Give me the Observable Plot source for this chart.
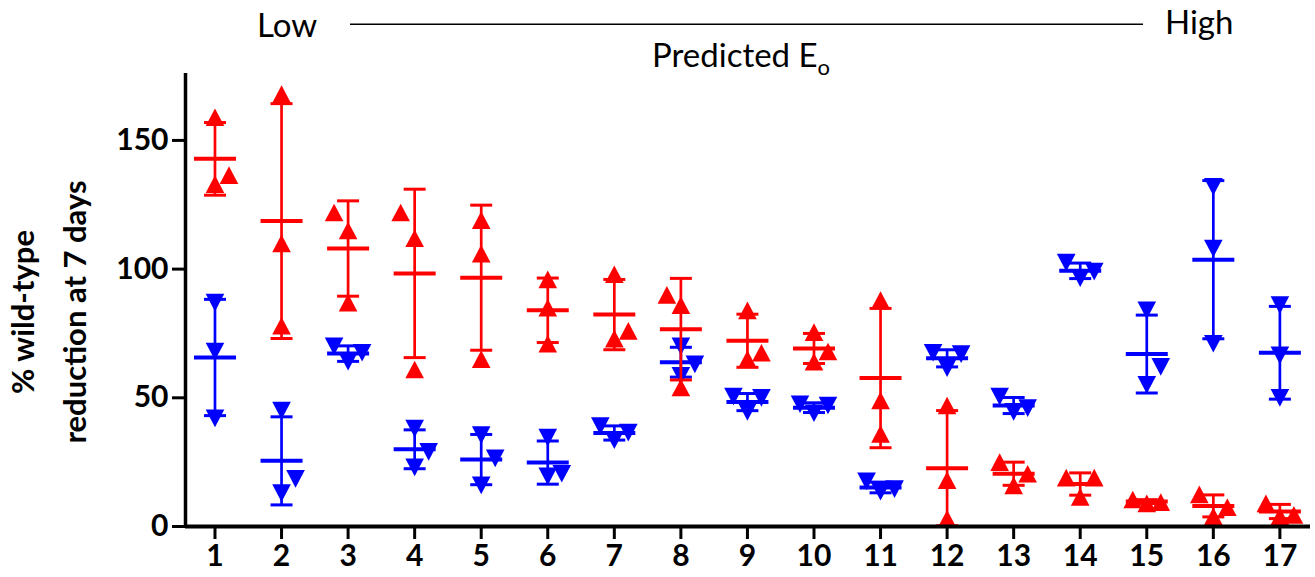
<!DOCTYPE html>
<html><head><meta charset="utf-8">
<script src="https://cdn.jsdelivr.net/npm/d3@7"></script>
<script src="https://cdn.jsdelivr.net/npm/@observablehq/plot@0.6"></script>
<style>
body{margin:0;background:#fff;}
#wrap{position:relative;width:1315px;height:577px;font-family:Lato,"Open Sans",sans-serif;}
#overlay{position:absolute;left:0;top:0;pointer-events:none;overflow:visible;}
</style></head><body><div id="wrap"></div>
<script>
// ---- data ----
const groups = [1,2,3,4,5,6,7,8,9,10,11,12,13,14,15,16,17];
const xTicks = groups;
const yTicks = [0, 50, 100, 150];
// red series (triangles up), three replicates per group
const redValues = [
  [159,133,136.5],[168,110,78],[122,115,87],[122,112,61],[119,106,65],
  [96,85,71],[98,73,76],[90,86,54],[84,65,67.5],[75.5,68,64],
  [88,49,36],[47,18,3],[25,20.5,16],[19,19,11.5],[10.5,9,9.5],
  [12.5,7.5,4],[9,4,4.5]
];
// blue series (triangles down)
const blueValues = [
  [87,68,42],[45,18.5,13],[70,64,67.5],[38,29,23],[35.5,26.5,16],
  [34.5,19.5,20.5],[39,33.5,36.5],[70,63,58.5],[50.5,44.5,50],[47.5,47,44],
  [17.5,13.5,14.5],[67.5,67,61.5],[50.5,46,44.5],[102.5,99,96.5],[84,62,55],
  [132,108,71],[86,66.5,50]
];
const yTitle = ["% wild-type", "reduction at 7 days"];
const topLabels = {low: "Low", high: "High", middle: "Predicted E", sub: "o"};

// ---- helpers ----
const RED = "#ff0000", BLUE = "#0000ff";
const xDomain = [0.557, 17.46], yDomain = [0, 176];
const dodgeGap = 11; // values closer than this are shifted sideways

function triangle(dir){
  return {draw(ctx, size){
    const r = Math.sqrt(size/Math.PI), hw = r*1.37, hh = r*1.3*dir;
    ctx.moveTo(0,-hh); ctx.lineTo(hw,hh); ctx.lineTo(-hw,hh); ctx.closePath();
  }};
}
const triUp = triangle(1), triDown = triangle(-1);
const hline = {draw(ctx,size){const r=Math.sqrt(size/Math.PI); ctx.moveTo(-r,0); ctx.lineTo(r,0);}};

function build(values){
  const pts = [], stats = [];
  values.forEach((vals,i)=>{
    const g = groups[i];
    const m = d3.mean(vals), s = d3.deviation(vals);
    stats.push({group:g, mean:m, lo:m-s, hi:m+s});
    const placed = [];
    [...vals].sort((a,b)=>a-b).forEach(v=>{
      const near = c => placed.find(p=>p.slot===c && Math.abs(p.value-v)<dodgeGap);
      let slot = 0;
      const hit = near(0);
      if (hit) {
        const prefs = hit === placed[0] ? [1,-1] : [-1,1];
        slot = prefs.find(c=>!near(c)) ?? prefs[0];
      }
      const p = {group:g, value:v, slot};
      placed.push(p); pts.push(p);
    });
  });
  return {pts, stats};
}

function seriesMarks(values, color, sym){
  const {pts, stats} = build(values);
  return [
    ...[-1,0,1].map(s=>Plot.dot(pts.filter(p=>p.slot===s), {x:"group", y:"value", symbol:sym, r:6.8, fill:color, stroke:"none", dx:s*14})),
    Plot.ruleX(stats, {x:"group", y1:"lo", y2:"hi", stroke:color, strokeWidth:2.7}),
    Plot.dot(stats, {x:"group", y:"hi", symbol:hline, r:11, stroke:color, fill:"none", strokeWidth:3}),
    Plot.dot(stats, {x:"group", y:"lo", symbol:hline, r:11, stroke:color, fill:"none", strokeWidth:3}),
    Plot.dot(stats, {x:"group", y:"mean", symbol:hline, r:21, stroke:color, fill:"none", strokeWidth:4})
  ];
}

const chart = Plot.plot({
  width: 1315, height: 577,
  marginLeft: 185, marginRight: 5, marginTop: 73, marginBottom: 51,
  style: {fontFamily: "Lato, 'Open Sans', sans-serif", background: "transparent", color: "black"},
  x: {domain: xDomain},
  y: {domain: yDomain},
  marks: [
    Plot.axisY(yTicks, {tickSize: 13, tickPadding: 4, strokeWidth: 3, fontSize: 30, fontWeight: "bold", label: null, tickFormat: d=>String(d)}),
    Plot.axisX(xTicks, {tickSize: 13, tickPadding: 5, strokeWidth: 3, fontSize: 30, fontWeight: "bold", label: null, tickFormat: d=>String(d)}),
    ...seriesMarks(blueValues, BLUE, triDown),
    ...seriesMarks(redValues, RED, triUp),
    Plot.ruleX([xDomain[0]], {strokeWidth: 3.5}),
    Plot.ruleY([0], {strokeWidth: 4})
  ]
});
document.getElementById("wrap").appendChild(chart);

// ---- annotations ----
const ov = d3.select("#wrap").append("svg").attr("id","overlay").attr("width",1315).attr("height",577)
  .style("font-family","Lato, 'Open Sans', sans-serif");
ov.append("text").attr("x",257).attr("y",36.5).attr("font-size",33).text(topLabels.low);
ov.append("line").attr("x1",350).attr("x2",1143).attr("y1",24.3).attr("y2",24.3).attr("stroke","black").attr("stroke-width",1.6);
ov.append("text").attr("x",1165).attr("y",34).attr("font-size",33).text(topLabels.high);
const pe = ov.append("text").attr("x",652).attr("y",66.7).attr("font-size",33).text(topLabels.middle);
pe.append("tspan").attr("font-size",22).attr("dy",8).text(topLabels.sub);
ov.append("text").attr("transform","translate(34,312) rotate(-90)").attr("text-anchor","middle")
  .attr("font-size",31).attr("font-weight","bold").text(yTitle[0]);
ov.append("text").attr("transform","translate(86,312) rotate(-90)").attr("text-anchor","middle")
  .attr("font-size",31).attr("font-weight","bold").text(yTitle[1]);
</script></body></html>
